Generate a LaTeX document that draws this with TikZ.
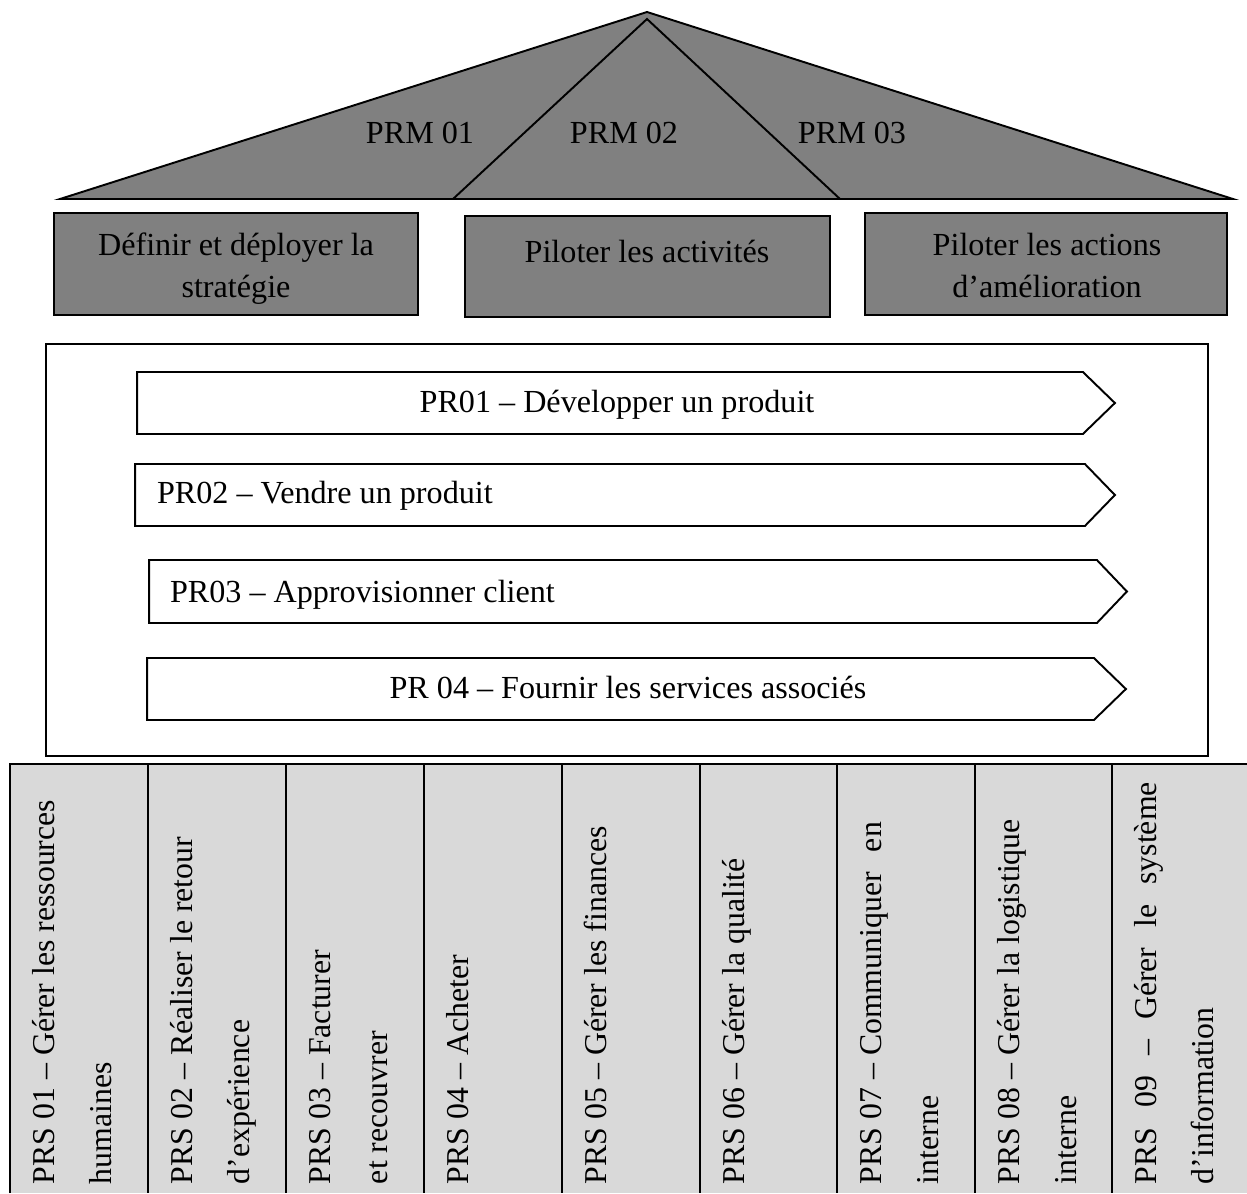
\documentclass[tikz,border=0pt]{standalone}
\usepackage{fontspec}
\setmainfont{Liberation Serif}
\definecolor{roofgray}{HTML}{808080}
\definecolor{cellgray}{HTML}{D9D9D9}
\begin{document}
\begin{tikzpicture}[x=0.02cm, y=-0.02cm, line width=1.1pt,
  lbl/.style={font=\fontsize{18.3}{24}\selectfont, inner sep=0pt, outer sep=0pt},
  mgmtbox/.style={draw, fill=roofgray, inner sep=0pt, outer sep=0pt},
  body/.style={inner sep=0pt, outer sep=0pt, minimum height=1.24cm},
  vtext/.style={lbl, font=\fontsize{18.1}{24}\selectfont, rotate=90, anchor=base west}]
\useasboundingbox (0,0) rectangle (1247,1193);

% roof with the three management processes
\draw[fill=roofgray] (60,199) -- (647,12) -- (1233,199) -- cycle;
\draw (453,199) -- (647,19) -- (840,199);
\node[lbl] (prm1) at (420,133) {PRM 01};
\node[lbl] (prm2) at (624,133) {PRM 02};
\node[lbl] (prm3) at (852,133) {PRM 03};

% management boxes
\node[mgmtbox, minimum width=7.28cm, minimum height=2.04cm] (m1) at (236,264) {};
\node[mgmtbox, minimum width=7.30cm, minimum height=2.02cm] (m2) at (647.5,266.5) {};
\node[mgmtbox, minimum width=7.24cm, minimum height=2.04cm] (m3) at (1046,264) {};
\node[lbl, anchor=base] (m1a) at (236,255) {Définir et déployer la};
\node[lbl, anchor=base] (m1b) at (236,297) {stratégie};
\node[lbl, anchor=base] (m2a) at (647,262) {Piloter les activités};
\node[lbl, anchor=base] (m3a) at (1047,255) {Piloter les actions};
\node[lbl, anchor=base] (m3b) at (1047,297) {d’amélioration};

% frame of the realisation processes
\node[draw, inner sep=0pt, outer sep=0pt, minimum width=23.24cm, minimum height=8.24cm] (frame) at (627,550) {};

% process arrows
\node[body, minimum width=18.92cm] (a1) at (610,403) {};
\node[body, minimum width=19.00cm] (a2) at (610,495) {};
\node[body, minimum width=18.96cm, minimum height=1.26cm] (a3) at (623,591.5) {};
\node[body, minimum width=18.94cm] (a4) at (620.5,689) {};
\draw (a1.north west) -- (a1.north east) -- ([xshift=0.64cm]a1.east) -- (a1.south east) -- (a1.south west) -- cycle;
\draw (a2.north west) -- (a2.north east) -- ([xshift=0.60cm]a2.east) -- (a2.south east) -- (a2.south west) -- cycle;
\draw (a3.north west) -- (a3.north east) -- ([xshift=0.60cm]a3.east) -- (a3.south east) -- (a3.south west) -- cycle;
\draw (a4.north west) -- (a4.north east) -- ([xshift=0.64cm]a4.east) -- (a4.south east) -- (a4.south west) -- cycle;
\node[lbl, anchor=base] (t1) at (617,412) {PR01 – Développer un produit};
\node[lbl, anchor=base west] (t2) at (157,503) {PR02 – Vendre un produit};
\node[lbl, anchor=base west] (t3) at (170,602) {PR03 – Approvisionner client};
\node[lbl, anchor=base] (t4) at (628,698) {PR 04 – Fournir les services associés};

% support processes table
\fill[cellgray] (10,764) rectangle (1247,1193);
\draw (10,1193) -- (10,764) -- (1247,764);
\foreach \cx in {148,286,424,562,700,837,975,1112}
  \draw (\cx,764) -- (\cx,1193);

\node[vtext] (s1a) at (54.5,1184) {PRS 01 – Gérer les ressources};
\node[vtext] (s1b) at (111.5,1184) {humaines};
\node[vtext] (s2a) at (192.5,1184) {PRS 02 – Réaliser le retour};
\node[vtext] (s2b) at (249.5,1184) {d’expérience};
\node[vtext] (s3a) at (330.5,1184) {PRS 03 – Facturer};
\node[vtext] (s3b) at (387.5,1184) {et recouvrer};
\node[vtext] (s4a) at (468.5,1184) {PRS 04 – Acheter};
\node[vtext] (s5a) at (606.5,1184) {PRS 05 – Gérer les finances};
\node[vtext] (s6a) at (744.5,1184) {PRS 06 – Gérer la qualité};
\node[vtext] (s7a) at (881.5,1184) {\makebox[7.24cm][l]{PRS 07 – Communiquer\hfill en}};
\node[vtext] (s7b) at (938.5,1184) {interne};
\node[vtext] (s8a) at (1019.5,1184) {PRS 08 – Gérer la logistique};
\node[vtext] (s8b) at (1076.5,1184) {interne};
\node[vtext] (s9a) at (1156.5,1184) {\makebox[8.04cm][s]{PRS 09 – Gérer le système}};
\node[vtext] (s9b) at (1213.5,1184) {d’information};
\end{tikzpicture}
\end{document}
